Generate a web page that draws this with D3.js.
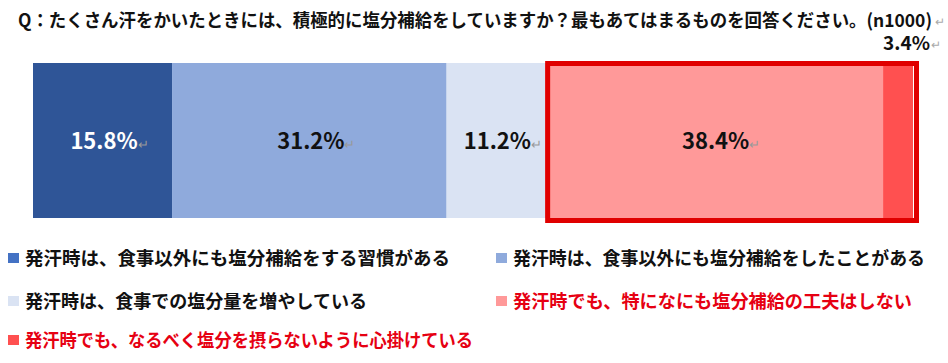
<!DOCTYPE html>
<html>
<head>
<meta charset="utf-8">
<script src="https://cdn.jsdelivr.net/npm/d3@7"></script>
<style>
  body { margin: 0; background: #fff; }
  svg { display: block; font-family: "Noto Sans CJK JP", "Noto Sans", sans-serif; font-weight: bold; }
</style>
</head>
<body>
<svg id="chart" width="948" height="363"></svg>
<script>
var title = "Q：たくさん汗をかいたときには、積極的に塩分補給をしていますか？最もあてはまるものを回答ください。(n1000)";
var categories = [
  "発汗時は、食事以外にも塩分補給をする習慣がある",
  "発汗時は、食事以外にも塩分補給をしたことがある",
  "発汗時は、食事での塩分量を増やしている",
  "発汗時でも、特になにも塩分補給の工夫はしない",
  "発汗時でも、なるべく塩分を摂らないように心掛けている"
];
var values = [15.8, 31.2, 11.2, 38.4, 3.4];
var barColors = ["#2F5597", "#8FAADC", "#DAE3F3", "#FF9999", "#FF5050"];
var legendColors = ["#4472C4", "#8FAADC", "#DAE3F3", "#FF9999", "#FF5050"];
var labelColors = ["#fff", "#111", "#111", "#111", "#111"];
var legendTextColors = ["#111", "#111", "#111", "#E60012", "#E60012"];
// widths the legend texts take in the original (layout only)
var legendWidths = [425, 412, 342, 399, 448];

var svg = d3.select("#chart");

var x = d3.scaleLinear().domain([0, 100]).range([33, 913]);
var y = d3.scaleBand().domain(["all"]).range([63, 218]);

// cumulative starts
var starts = [];
var acc = 0;
values.forEach(function(v) { starts.push(acc); acc += v; });

var data = values.map(function(v, i) {
  return { name: categories[i], value: v, start: starts[i], i: i };
});

function returnMark(sel, px, py) {
  return sel.append("text")
    .attr("x", px).attr("y", py)
    .attr("fill", "#aaa")
    .style("font-size", "12px")
    .style("font-weight", "normal")
    .text("↵");
}

// title
svg.append("text")
  .attr("x", 18)
  .attr("y", 27)
  .attr("textLength", 914)
  .attr("lengthAdjust", "spacingAndGlyphs")
  .style("font-size", "18px")
  .attr("fill", "#111")
  .text(title);
returnMark(svg, 935, 26);

// bars
svg.selectAll("rect.seg")
  .data(data)
  .enter().append("rect")
  .attr("class", "seg")
  .attr("x", function(d) { return x(d.start); })
  .attr("width", function(d) { return x(d.start + d.value) - x(d.start); })
  .attr("y", y("all"))
  .attr("height", y.bandwidth())
  .attr("fill", function(d) { return barColors[d.i]; });

// red highlight box around the last two
svg.append("rect")
  .attr("x", x(starts[3]) + 2.5)
  .attr("y", y("all") + 0.5)
  .attr("width", x(100) - x(starts[3]) + 1)
  .attr("height", y.bandwidth() + 2)
  .attr("fill", "none")
  .attr("stroke", "#E00000")
  .attr("stroke-width", 5);

// labels inside bars (except the small one)
var labels = svg.selectAll("text.lbl")
  .data(data.filter(function(d) { return d.i < 4; }))
  .enter().append("text")
  .attr("class", "lbl")
  .attr("x", function(d) { return x(d.start + d.value / 2) + 7; })
  .attr("y", y("all") + y.bandwidth() / 2 + 8)
  .attr("text-anchor", "middle")
  .style("font-size", "22px")
  .attr("fill", function(d) { return labelColors[d.i]; })
  .text(function(d) { return d.value.toFixed(1) + "%"; });
labels.append("tspan").attr("fill", "#999").style("font-size", "13px").style("font-weight", "normal").text("↵");

// small segment label above the bar
var small = data[4];
svg.append("text")
  .attr("x", 930)
  .attr("y", 50)
  .attr("text-anchor", "end")
  .style("font-size", "19px")
  .attr("fill", "#111")
  .text(small.value.toFixed(1) + "%");
returnMark(svg, 931, 49);

// legend
var colX = [8, 496];
var rowY = [258, 301, 340];
var lg = svg.selectAll("g.lg")
  .data(data)
  .enter().append("g")
  .attr("class", "lg")
  .attr("transform", function(d) {
    return "translate(" + colX[d.i % 2] + "," + rowY[Math.floor(d.i / 2)] + ")";
  });
lg.append("rect")
  .attr("x", 0).attr("y", -5)
  .attr("width", 11).attr("height", 10)
  .attr("fill", function(d) { return legendColors[d.i]; });
lg.append("text")
  .attr("x", 17)
  .attr("y", 7)
  .attr("textLength", function(d) { return legendWidths[d.i]; })
  .attr("lengthAdjust", "spacingAndGlyphs")
  .style("font-size", "18.5px")
  .attr("fill", function(d) { return legendTextColors[d.i]; })
  .text(function(d) { return d.name; });
</script>
</body>
</html>
